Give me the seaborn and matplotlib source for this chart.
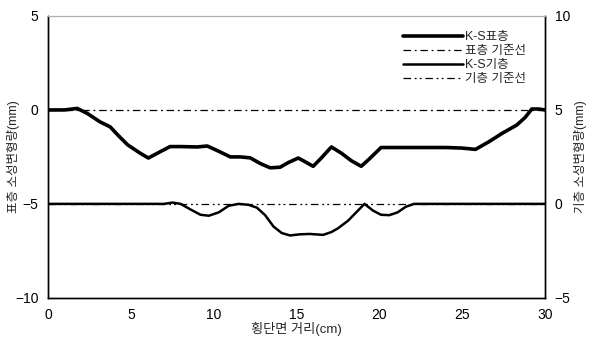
import matplotlib
matplotlib.use('Agg')
import matplotlib.pyplot as plt
import seaborn as sns

# 표층 (left axis)
surf_x = [0, 1, 1.75, 2.35, 3.14, 3.74, 4.2, 4.8, 5.55, 6.05, 6.6, 7.36, 8, 9, 9.6,
          10.3, 11, 11.6, 12.2, 12.8, 13.4, 14, 14.5, 15.1, 15.5, 16, 16.5, 17.1,
          17.7, 18.3, 18.9, 19.4, 20.1, 21, 22, 23, 24, 25, 25.8, 26.6, 27.4, 28.3,
          28.8, 29.2, 29.6, 30]
surf_y = [0, 0, 0.08, -0.18, -0.64, -0.9, -1.33, -1.86, -2.3, -2.56, -2.3, -1.95,
          -1.95, -1.97, -1.92, -2.2, -2.5, -2.5, -2.55, -2.85, -3.08, -3.05, -2.8,
          -2.56, -2.75, -3.0, -2.55, -1.97, -2.3, -2.7, -3.0, -2.6, -2.0, -2.0,
          -2.0, -2.0, -2.0, -2.03, -2.1, -1.7, -1.25, -0.8, -0.4, 0.05, 0.05, 0.0]

# 기층 (right axis)
base_x = [0, 7, 7.5, 8, 8.6, 9.2, 9.7, 10.3, 10.9, 11.5, 12.1, 12.6, 13.1, 13.6,
          14.1, 14.6, 15.2, 15.8, 16.6, 17.1, 17.5, 18.1, 18.6, 19.1, 19.6, 20.1,
          20.6, 21.1, 21.6, 22.1, 22.6, 30]
base_y = [0, 0, 0.07, 0.0, -0.3, -0.58, -0.63, -0.45, -0.1, 0.0, -0.05, -0.2,
          -0.6, -1.2, -1.55, -1.68, -1.62, -1.6, -1.65, -1.5, -1.3, -0.9, -0.45,
          0.0, -0.35, -0.58, -0.6, -0.45, -0.15, 0.0, 0.0, 0.0]

x_ticks = [0, 5, 10, 15, 20, 25, 30]
left_ticks = [-10, -5, 0, 5]
right_ticks = [-5, 0, 5, 10]

sns.set_style('white')
plt.rcParams['font.family'] = ['Liberation Sans', 'Noto Sans CJK KR']

fig, ax = plt.subplots(figsize=(5.95, 3.4), dpi=100)
fig.subplots_adjust(left=0.081, right=0.916, bottom=0.124, top=0.953)
ax2 = ax.twinx()

sns.lineplot(x=surf_x, y=surf_y, ax=ax, color='black', linewidth=2.6,
             label='K-S표층', legend=False)
l1 = ax.axhline(0, color='black', linewidth=0.9, linestyle=(0, (6, 3, 1.5, 3)),
                label='표층 기준선')
l2 = ax2.axhline(0, color='black', linewidth=0.9,
                 linestyle=(0, (6, 3, 1.5, 2.5, 1.5, 3)), label='기층 기준선')
sns.lineplot(x=base_x, y=base_y, ax=ax2, color='black', linewidth=1.8,
             label='K-S기층', legend=False)

ax.set_xlim(0, 30)
ax.set_ylim(-10, 5)
ax2.set_ylim(-5, 10)
ax.set_xticks(x_ticks)
ax.set_yticks(left_ticks)
ax2.set_yticks(right_ticks)

for a in (ax, ax2):
    a.tick_params(length=0, labelsize=10, colors='black', pad=7)
    for s in ('left', 'right', 'bottom'):
        a.spines[s].set_color('black')
        a.spines[s].set_linewidth(1.0)
    a.spines['top'].set_color('#b0b0b0')
    a.spines['top'].set_linewidth(0.8)

ax.set_xlabel('횡단면 거리(cm)', fontsize=9.5, labelpad=0)
ax.set_ylabel('표층 소성변형량(mm)', fontsize=9)
ax2.set_ylabel('기층 소성변형량(mm)', fontsize=9)
ax.yaxis.set_label_coords(-0.056, 0.5)
ax2.yaxis.set_label_coords(1.058, 0.5)

h1 = ax.get_lines()[0]
h3 = ax2.get_lines()[1]
ax.legend([h1, l1, h3, l2], ['K-S표층', '표층 기준선', 'K-S기층', '기층 기준선'],
          loc='upper right', bbox_to_anchor=(0.985, 0.985), frameon=False,
          fontsize=9, handlelength=4.8, handletextpad=0.2, labelspacing=0.15)

fig.savefig('out.png', dpi=100)
